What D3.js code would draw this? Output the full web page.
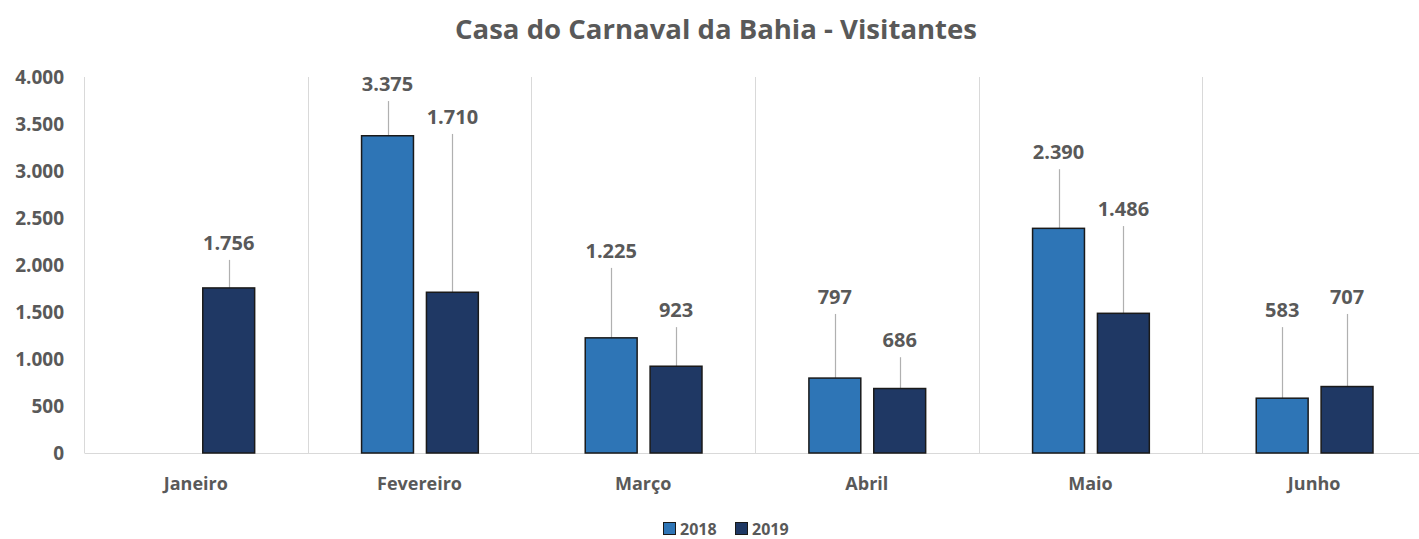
<!DOCTYPE html>
<html>
<head>
<meta charset="utf-8">
<script src="https://cdn.jsdelivr.net/npm/d3@7"></script>
<style>
  body { margin: 0; background: #fff; }
  text { font-family: "Open Sans", sans-serif; font-weight: bold; fill: #595959; }
</style>
</head>
<body>
<div id="chart"></div>
<script>
// data
var meses = ["Janeiro", "Fevereiro", "Março", "Abril", "Maio", "Junho"];
var anos = ["2018", "2019"];
var visitantes2018 = [null, 3375, 1225, 797, 2390, 583];
var visitantes2019 = [1756, 1710, 923, 686, 1486, 707];
var yTicks = [0, 500, 1000, 1500, 2000, 2500, 3000, 3500, 4000];
// height (in visitor units) where each callout label was placed
var callout2018 = [null, 3925, 2150, 1660, 3200, 1520];
var callout2019 = [2235, 3575, 1520, 1200, 2595, 1660];

var cores = {"2018": "#2e75b6", "2019": "#1f3864"};

var width = 1419, height = 539;
var margin = {top: 77, right: -7, bottom: 86, left: 84};

var svg = d3.select("#chart").append("svg")
    .attr("width", width)
    .attr("height", height);

var fmt = function(v) { return d3.format(",")(v).replace(/,/g, "."); };

var x0 = d3.scaleBand()
    .domain(meses)
    .range([margin.left, width - margin.right])
    .padding(0);

var x1 = d3.scaleBand()
    .domain(anos)
    .range([x0.bandwidth() * 0.241, x0.bandwidth() * 0.763])
    .paddingInner(0.2);

var y = d3.scaleLinear()
    .domain([0, 4000])
    .range([height - margin.bottom, margin.top]);

// title
svg.append("text")
    .attr("x", 716)
    .attr("y", 39)
    .attr("text-anchor", "middle")
    .style("font-size", "27px")
    .attr("textLength", 522)
    .attr("lengthAdjust", "spacingAndGlyphs")
    .text("Casa do Carnaval da Bahia - Visitantes");

// vertical separators between months
svg.append("g")
    .selectAll("line")
    .data(meses)
    .enter()
    .append("line")
    .attr("x1", function(d) { return Math.round(x0(d)) + 0.5; })
    .attr("x2", function(d) { return Math.round(x0(d)) + 0.5; })
    .attr("y1", y(4000))
    .attr("y2", y(0))
    .attr("stroke", "#d9d9d9")
    .attr("stroke-width", 1);

// y axis labels
var yAxis = svg.append("g")
    .attr("transform", "translate(" + 64 + ",0)")
    .call(d3.axisLeft(y).tickValues(yTicks).tickFormat(fmt).tickSize(0).tickPadding(0));
yAxis.select(".domain").remove();
yAxis.selectAll("text")
    .style("font-size", "19px")
    .attr("fill", null);

// x axis
var xAxis = svg.append("g")
    .attr("transform", "translate(0," + y(0) + ")")
    .call(d3.axisBottom(x0).tickSize(0).tickPadding(24));
xAxis.select(".domain").attr("stroke", "#d9d9d9");
xAxis.selectAll("text")
    .style("font-size", "18px")
    .attr("fill", null);

var series = [
    {ano: "2018", valores: visitantes2018, callout: callout2018},
    {ano: "2019", valores: visitantes2019, callout: callout2019}
];

var pontos = [];
series.forEach(function(s) {
    meses.forEach(function(m, i) {
        if (s.valores[i] != null) {
            pontos.push({mes: m, ano: s.ano, valor: s.valores[i], callout: s.callout[i]});
        }
    });
});

var cx = function(d) { return x0(d.mes) + x1(d.ano) + x1.bandwidth() / 2; };

// leader lines
svg.append("g")
    .selectAll("line")
    .data(pontos)
    .enter()
    .append("line")
    .attr("x1", function(d) { return Math.round(cx(d)) + 0.5; })
    .attr("x2", function(d) { return Math.round(cx(d)) + 0.5; })
    .attr("y1", function(d) { return y(d.callout) + 17; })
    .attr("y2", function(d) { return y(d.valor); })
    .attr("stroke", "#b0b0b0")
    .attr("stroke-width", 1.2);

// bars
svg.append("g")
    .selectAll("rect")
    .data(pontos)
    .enter()
    .append("rect")
    .attr("x", function(d) { return x0(d.mes) + x1(d.ano); })
    .attr("y", function(d) { return y(d.valor); })
    .attr("width", x1.bandwidth())
    .attr("height", function(d) { return y(0) - y(d.valor); })
    .attr("fill", function(d) { return cores[d.ano]; })
    .attr("stroke", "#1a1a1a")
    .attr("stroke-width", 1.5);

// value labels
svg.append("g")
    .selectAll("text")
    .data(pontos)
    .enter()
    .append("text")
    .attr("x", cx)
    .attr("y", function(d) { return y(d.callout); })
    .attr("dy", "0.35em")
    .attr("text-anchor", "middle")
    .style("font-size", "20px")
    .text(function(d) { return fmt(d.valor); });

// legend
var legenda = svg.append("g")
    .attr("transform", "translate(663,529)");

var item = legenda.selectAll("g")
    .data(anos)
    .enter()
    .append("g")
    .attr("transform", function(d, i) { return "translate(" + (i * 72) + ",0)"; });

item.append("rect")
    .attr("x", 0.5)
    .attr("y", -6.5)
    .attr("width", 12)
    .attr("height", 12)
    .attr("fill", function(d) { return cores[d]; })
    .attr("stroke", "#1a1a1a")
    .attr("stroke-width", 1);

item.append("text")
    .attr("x", 17)
    .attr("y", 0)
    .attr("dy", "0.35em")
    .style("font-size", "16px")
    .text(function(d) { return d; });
</script>
</body>
</html>
